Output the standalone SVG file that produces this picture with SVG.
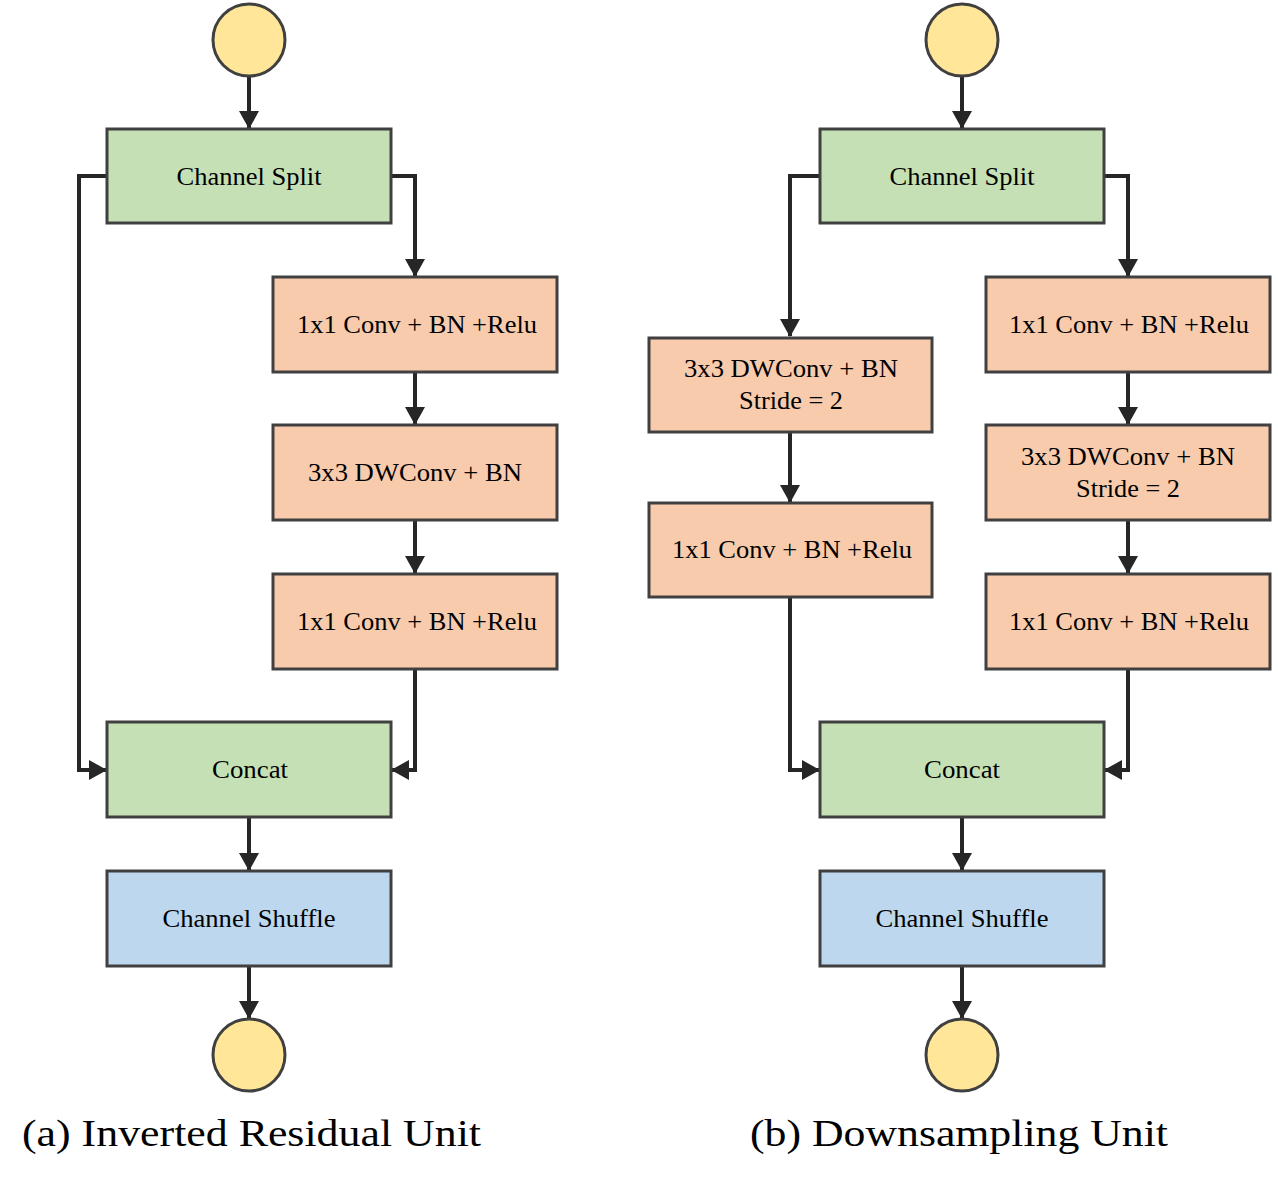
<svg xmlns="http://www.w3.org/2000/svg" width="1278" height="1178" viewBox="0 0 1278 1178">
<defs>
<style>
.box{stroke:#404040;stroke-width:3}
.g{fill:#C5E0B4}.o{fill:#F8CBAD}.b{fill:#BDD7EE}
.c{fill:#FFE699;stroke:#404040;stroke-width:3}
.t{font-family:'Liberation Serif','DejaVu Serif',serif;font-size:26px;fill:#000;text-anchor:middle}
.cap{font-family:'Liberation Serif','DejaVu Serif',serif;font-size:37px;fill:#000}
.e{fill:none;stroke:#262626;stroke-width:4;marker-end:url(#ah)}
</style>
<marker id="ah" viewBox="0 0 18 20" refX="17" refY="10" markerWidth="18" markerHeight="20" markerUnits="userSpaceOnUse" orient="auto">
<path d="M0,0 L18,10 L0,20 Z" fill="#262626"/>
</marker>
</defs>
<rect width="1278" height="1178" fill="#fff"/>
<g id="connectors">
<path class="e" d="M249,76 V128"/>
<path class="e" d="M107,176 H79 V770 H106"/>
<path class="e" d="M391,176 H415 V276"/>
<path class="e" d="M415,372 V424"/>
<path class="e" d="M415,520 V573"/>
<path class="e" d="M415,669 V770 H392"/>
<path class="e" d="M249,817 V870"/>
<path class="e" d="M249,966 V1018"/>
<path class="e" d="M962,76 V128"/>
<path class="e" d="M820,176 H790 V336"/>
<path class="e" d="M790,432 V502"/>
<path class="e" d="M790,597 V770 H819"/>
<path class="e" d="M1104,176 H1128 V276"/>
<path class="e" d="M1128,372 V424"/>
<path class="e" d="M1128,520 V573"/>
<path class="e" d="M1128,669 V770 H1105"/>
<path class="e" d="M962,817 V870"/>
<path class="e" d="M962,966 V1018"/>
</g>
<g id="a-in"><circle class="c" cx="249" cy="40" r="36"/></g>
<g id="a-split"><rect class="box g" x="107" y="129" width="284" height="94"/><text class="t" x="249" y="185" textLength="145" lengthAdjust="spacingAndGlyphs">Channel Split</text></g>
<g id="a-conv1"><rect class="box o" x="273" y="277" width="284" height="95"/><text class="t" x="417" y="333" textLength="240" lengthAdjust="spacingAndGlyphs">1x1 Conv + BN +Relu</text></g>
<g id="a-dw"><rect class="box o" x="273" y="425" width="284" height="95"/><text class="t" x="415" y="481" textLength="214" lengthAdjust="spacingAndGlyphs">3x3 DWConv + BN</text></g>
<g id="a-conv2"><rect class="box o" x="273" y="574" width="284" height="95"/><text class="t" x="417" y="630" textLength="240" lengthAdjust="spacingAndGlyphs">1x1 Conv + BN +Relu</text></g>
<g id="a-concat"><rect class="box g" x="107" y="722" width="284" height="95"/><text class="t" x="250" y="778" textLength="76" lengthAdjust="spacingAndGlyphs">Concat</text></g>
<g id="a-shuffle"><rect class="box b" x="107" y="871" width="284" height="95"/><text class="t" x="249" y="927" textLength="173" lengthAdjust="spacingAndGlyphs">Channel Shuffle</text></g>
<g id="a-out"><circle class="c" cx="249" cy="1055" r="36"/></g>
<g id="b-in"><circle class="c" cx="962" cy="40" r="36"/></g>
<g id="b-split"><rect class="box g" x="820" y="129" width="284" height="94"/><text class="t" x="962" y="185" textLength="145" lengthAdjust="spacingAndGlyphs">Channel Split</text></g>
<g id="b-ldw"><rect class="box o" x="649" y="338" width="283" height="94"/><text class="t" x="791" y="377" textLength="214" lengthAdjust="spacingAndGlyphs">3x3 DWConv + BN</text><text class="t" x="791" y="409" textLength="104" lengthAdjust="spacingAndGlyphs">Stride = 2</text></g>
<g id="b-lconv"><rect class="box o" x="649" y="503" width="283" height="94"/><text class="t" x="792" y="558" textLength="240" lengthAdjust="spacingAndGlyphs">1x1 Conv + BN +Relu</text></g>
<g id="b-rconv1"><rect class="box o" x="986" y="277" width="284" height="95"/><text class="t" x="1129" y="333" textLength="240" lengthAdjust="spacingAndGlyphs">1x1 Conv + BN +Relu</text></g>
<g id="b-rdw"><rect class="box o" x="986" y="425" width="284" height="95"/><text class="t" x="1128" y="465" textLength="214" lengthAdjust="spacingAndGlyphs">3x3 DWConv + BN</text><text class="t" x="1128" y="497" textLength="104" lengthAdjust="spacingAndGlyphs">Stride = 2</text></g>
<g id="b-rconv2"><rect class="box o" x="986" y="574" width="284" height="95"/><text class="t" x="1129" y="630" textLength="240" lengthAdjust="spacingAndGlyphs">1x1 Conv + BN +Relu</text></g>
<g id="b-concat"><rect class="box g" x="820" y="722" width="284" height="95"/><text class="t" x="962" y="778" textLength="76" lengthAdjust="spacingAndGlyphs">Concat</text></g>
<g id="b-shuffle"><rect class="box b" x="820" y="871" width="284" height="95"/><text class="t" x="962" y="927" textLength="173" lengthAdjust="spacingAndGlyphs">Channel Shuffle</text></g>
<g id="b-out"><circle class="c" cx="962" cy="1055" r="36"/></g>
<text class="cap" x="22" y="1146" textLength="459" lengthAdjust="spacingAndGlyphs">(a) Inverted Residual Unit</text>
<text class="cap" x="750" y="1146" textLength="418" lengthAdjust="spacingAndGlyphs">(b) Downsampling Unit</text>
</svg>
